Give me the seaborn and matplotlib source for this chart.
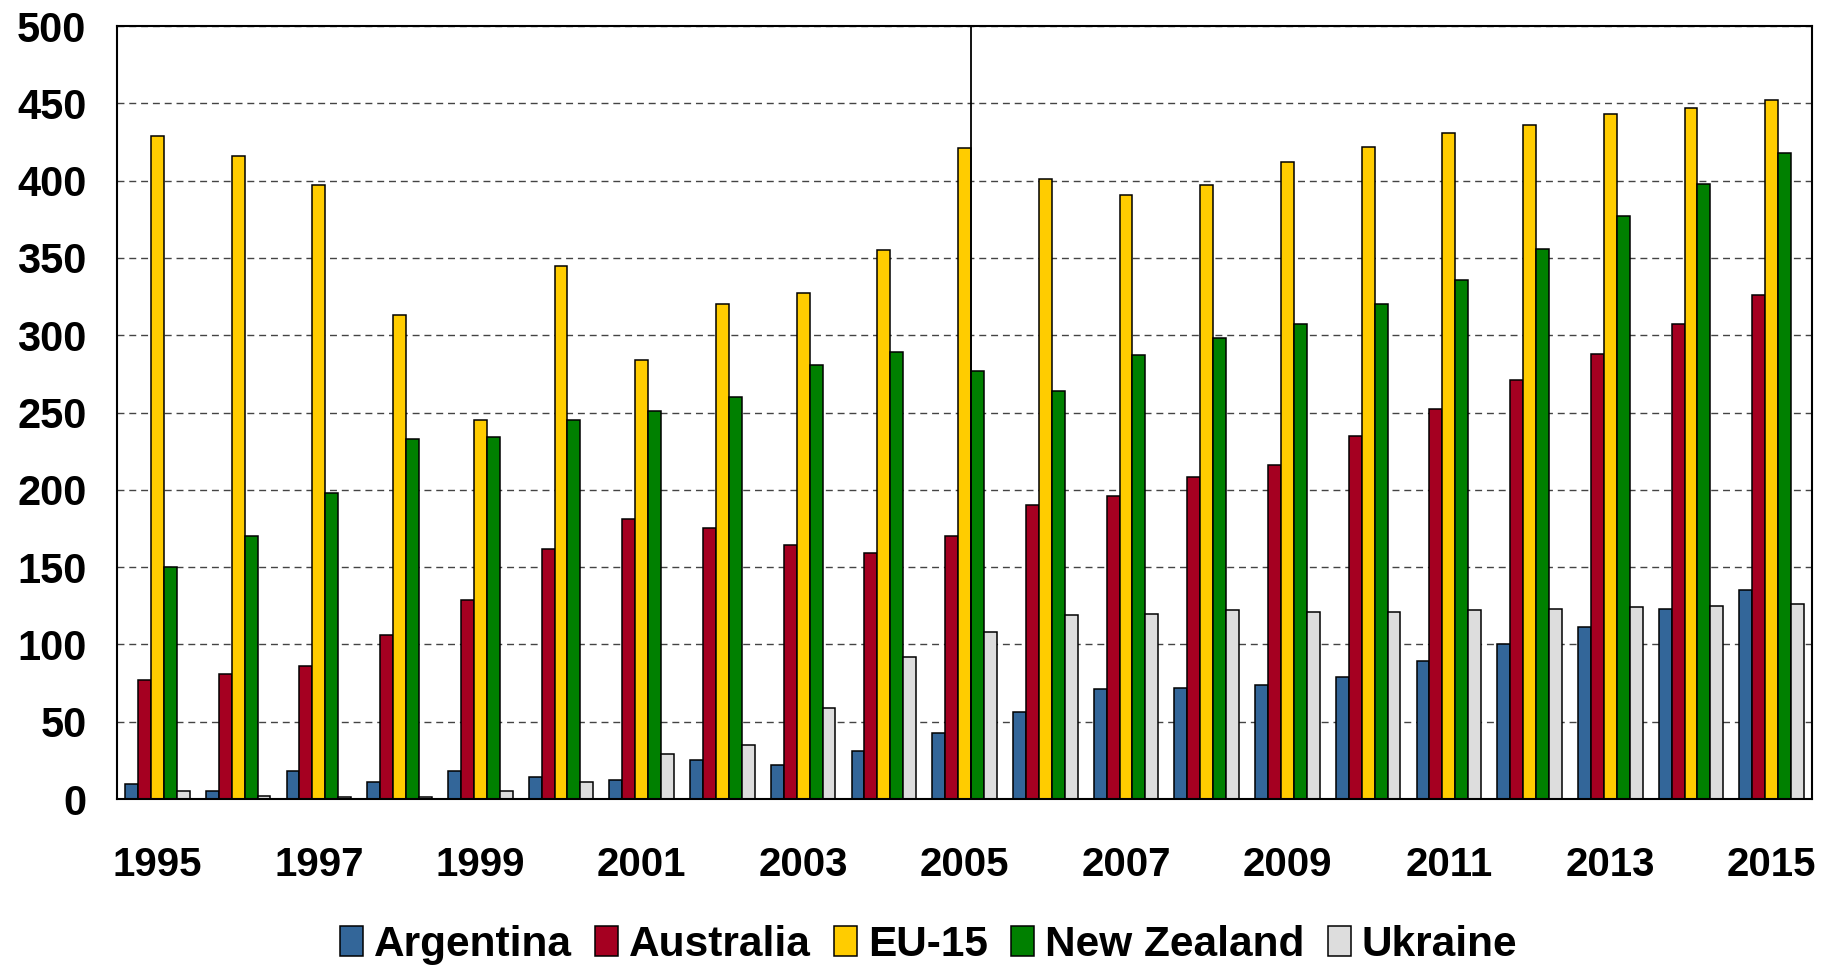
import numpy as np
import pandas as pd
import matplotlib
matplotlib.use("Agg")
import matplotlib.pyplot as plt
import seaborn as sns

# Values
years = list(range(1995, 2016))
argentina = [10, 5, 18, 11, 18, 14, 12, 25, 22, 31, 43, 56, 71, 72, 74, 79, 89, 100, 111, 123, 135]
australia = [77, 81, 86, 106, 129, 162, 181, 175, 164, 159, 170, 190, 196, 208, 216, 235, 252, 271, 288, 307, 326]
eu15 = [429, 416, 397, 313, 245, 345, 284, 320, 327, 355, 421, 401, 391, 397, 412, 422, 431, 436, 443, 447, 452]
new_zealand = [150, 170, 198, 233, 234, 245, 251, 260, 281, 289, 277, 264, 287, 298, 307, 320, 336, 356, 377, 398, 418]
ukraine = [5, 2, 1, 1, 5, 11, 29, 35, 59, 92, 108, 119, 120, 122, 121, 121, 122, 123, 124, 125, 126]

series = ['Argentina', 'Australia', 'EU-15', 'New Zealand', 'Ukraine']
colors = ['#336699', '#A50021', '#FFCC00', '#008000', '#DDDDDD']
yticks = [0, 50, 100, 150, 200, 250, 300, 350, 400, 450, 500]

df = pd.DataFrame({'Year': years, 'Argentina': argentina, 'Australia': australia,
                   'EU-15': eu15, 'New Zealand': new_zealand, 'Ukraine': ukraine})
long = df.melt(id_vars='Year', var_name='Country', value_name='Value')

sns.set_style('white')
plt.rcParams['font.family'] = ['Liberation Sans', 'DejaVu Sans']
plt.rcParams['font.weight'] = 'bold'
plt.rcParams['text.color'] = 'black'
plt.rcParams['xtick.color'] = 'black'
plt.rcParams['ytick.color'] = 'black'

fig = plt.figure(figsize=(18.35, 9.67), dpi=100)
ax = fig.add_axes([0.0638, 0.1737, 0.9237, 0.7994])

sns.barplot(data=long, x='Year', y='Value', hue='Country', hue_order=series,
            palette=colors, edgecolor='black', linewidth=1.1, width=0.8,
            saturation=1, ax=ax, legend=True)

ax.set_ylim(0, 500)
ax.set_xlim(-0.5, len(years) - 0.5)
ax.set_yticks(yticks)
ax.set_yticklabels([str(v) for v in yticks], fontsize=30, fontweight='bold', color='black')

# labels every other year at group centres, tick marks at group boundaries
ax.set_xticks(range(0, len(years), 2))
ax.set_xticklabels([str(y) for y in years[::2]], fontsize=29, fontweight='bold', color='black')
ax.set_xticks(np.arange(-0.5, len(years), 1.0), minor=True)
ax.tick_params(axis='x', which='major', length=0, pad=34)
ax.tick_params(axis='x', which='minor', length=12, width=1.5, color='black', direction='out')
ax.tick_params(axis='y', which='major', length=10, width=1.2, color='#555555', pad=12, direction='out')
ax.set_xlabel('')
ax.set_ylabel('')

ax.yaxis.grid(True, color='#444444', linestyle=(0, (5, 3.5)), linewidth=1.0)
ax.xaxis.grid(False)
ax.set_axisbelow(True)
for s in ax.spines.values():
    s.set_visible(True)
    s.set_color('black')
    s.set_linewidth(1.5)

# vertical marker line at 2005
ax.axvline(years.index(2005) + 0.08, color='black', linewidth=1.3, zorder=3)

handles, labels = ax.get_legend_handles_labels()
ax.legend_.remove()
leg = fig.legend(handles, labels, loc='center', bbox_to_anchor=(0.506, 0.023), ncol=5,
                 frameon=False, prop={'size': 30.5, 'weight': 'bold'},
                 handlelength=0.55, handleheight=0.7, handletextpad=0.25, columnspacing=0.55)
for t in leg.get_texts():
    t.set_color('black')

fig.savefig('out.png', dpi=100)
